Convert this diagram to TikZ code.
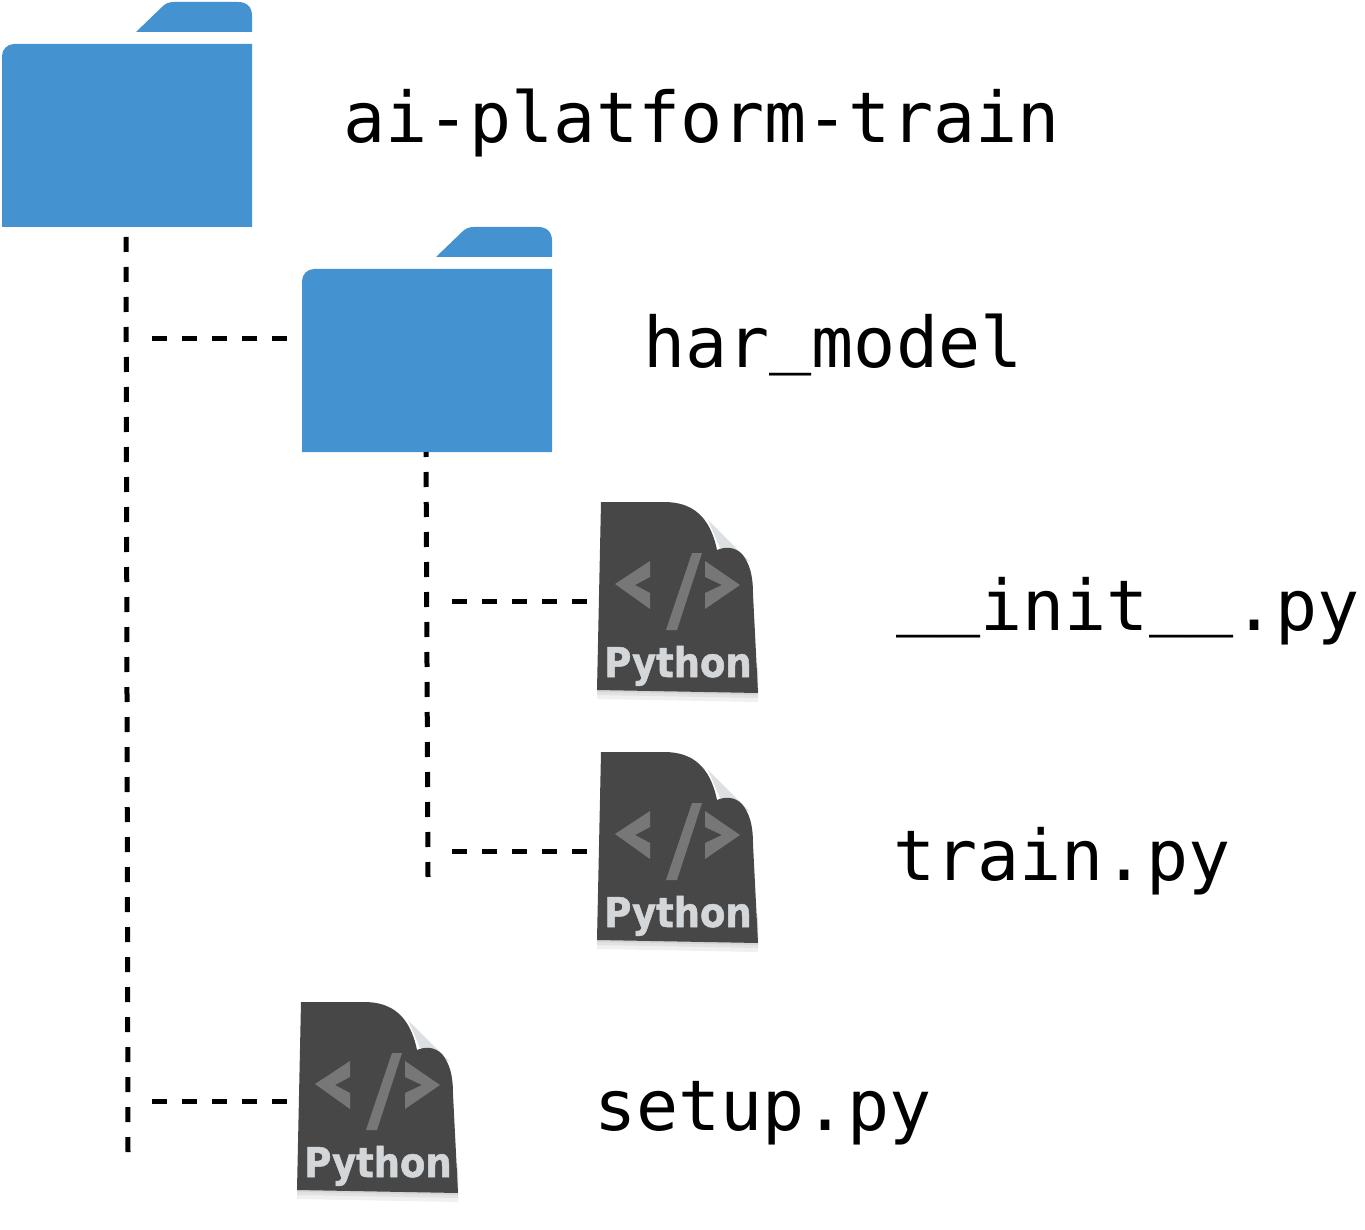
\documentclass[tikz,border=0pt]{standalone}
\usepackage{fontspec}
\newfontfamily\treefont{DejaVu Sans Mono}
\newfontfamily\pyfont[BoldFeatures={FakeBold=1.2}]{DejaVu Sans Condensed}
\newcommand{\lowbar}{\raisebox{9pt}{\_}}
\newcommand{\pyoutline}{(1,0) -- (64,0) .. controls (92,0) and (110,14) .. (117,48) .. controls (124,45) and (134,44) .. (142,52) .. controls (150,62) and (153,74) .. (153,92) -- (158,191) -- (-3,188) -- cycle}
\definecolor{folderblue}{HTML}{4493D0}
\definecolor{pydark}{HTML}{474747}
\definecolor{pymark}{HTML}{777777}
\definecolor{pytext}{HTML}{D3D7DA}
\definecolor{pyfold}{HTML}{DDE0E2}
\tikzset{
    treeline/.style={line width=5pt,dash pattern=on 15pt off 15pt},
    treelabel/.style={anchor=base west,inner sep=0pt,font=\treefont\fontsize{70}{70}\selectfont},
    folder/.pic={
        \fill[folderblue] (0,225) -- (0,54) arc[start angle=180,end angle=90,x radius=12,y radius=-12] -- (250,42) -- (250,225) -- cycle;
        \fill[folderblue] (134,30) -- (160,5) .. controls (163,2) and (166,0) .. (172,0) -- (236,0) .. controls (245,0) and (250,5) .. (250,14) -- (250,30) -- cycle;
        \coordinate (-stem) at (124,235);
        \coordinate (-in) at (-14,112);
    },
    pyfile/.pic={
        \foreach \w in {9,5,2}{
            \fill[black,opacity=0.06,yshift=-\w pt] (-2,160) -- (158,160) -- (158,191) -- (-3,188) -- cycle;
        }
        \fill[pyfold] (108,18) -- (150,60) -- (120,46) -- cycle;
        \fill[pydark] \pyoutline;
        \fill[pymark] (15,82) -- (50,59) -- (50,75) -- (35,83) -- (50,91) -- (50,107) -- cycle;
        \fill[pymark] (92,51) -- (102,51) -- (77,128) -- (66,128) -- cycle;
        \fill[pymark] (105,59) -- (140,83) -- (105,107) -- (105,91) -- (122,83) -- (105,75) -- cycle;
        \node[anchor=base,inner sep=0pt,text=pytext,font=\pyfont\bfseries\fontsize{41}{41}\selectfont] (-tag) at (78,175) {Python};
        \coordinate (-in) at (-12,99);
    },
}
\begin{document}
\begin{tikzpicture}[x=1pt,y=-1pt]
    \useasboundingbox (0,0) rectangle (1365,1230);

    \pic (root) at (2,2) {folder};
    \pic (model) at (302,227) {folder};
    \pic (init) at (600,502) {pyfile};
    \pic (train) at (600,752) {pyfile};
    \pic (setup) at (300,1002) {pyfile};

    \node[treelabel] (rootlabel) at (343,143) {ai-platform-train};
    \node[treelabel] (modellabel) at (643,368) {har\lowbar model};
    \node[treelabel] (initlabel) at (896,630) {\lowbar\lowbar init\lowbar\lowbar.py};
    \node[treelabel] (trainlabel) at (893,880) {train.py};
    \node[treelabel] (setuplabel) at (594,1130) {setup.py};

    \coordinate (rootend) at (128,1152);
    \coordinate (modelend) at (428,877);
    \coordinate (modeltap) at (152,339);
    \coordinate (setuptap) at (152,1101);
    \coordinate (inittap) at (452,601);
    \coordinate (traintap) at (452,851);

    %the two trunks
    \draw[treeline] (root-stem) -- (rootend);
    \draw[treeline,dash phase=10pt] ([yshift=10pt]model-stem) -- (modelend);

    %branches
    \draw[treeline] (modeltap) -- (model-in);
    \draw[treeline] (setuptap) -- (setup-in);
    \draw[treeline] (inittap) -- (init-in);
    \draw[treeline] (traintap) -- (train-in);
\end{tikzpicture}
\end{document}
